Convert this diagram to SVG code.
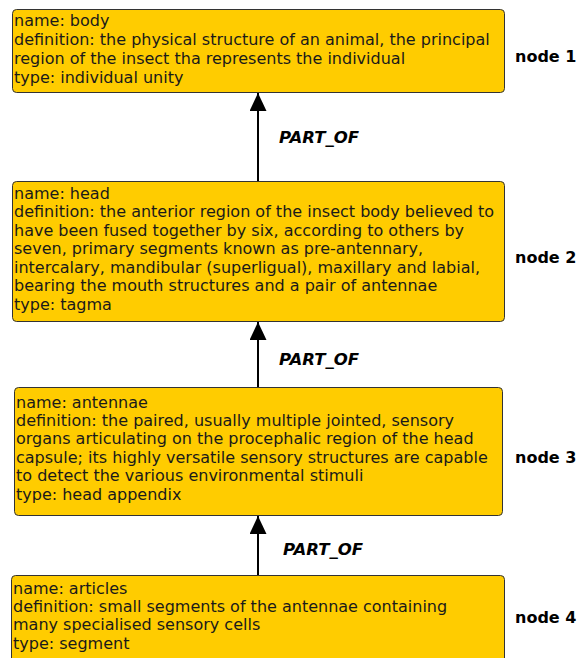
<svg xmlns="http://www.w3.org/2000/svg" width="577" height="658" viewBox="0 0 577 658">
<style>
.box{fill:#FFCC00;stroke:#333;stroke-width:1}
.t{font-family:"DejaVu Sans",sans-serif;font-size:16px;fill:#1a1a1a}
.lbl{font-family:"DejaVu Sans",sans-serif;font-size:16px;font-weight:bold;fill:#000}
.el{font-family:"DejaVu Sans",sans-serif;font-size:16.5px;font-weight:bold;font-style:italic;fill:#000}
.edge{stroke:#000;stroke-width:2;fill:none}
</style>
<defs>
<marker id="arr" viewBox="0 0 18 17" refX="18" refY="8.5" markerWidth="18" markerHeight="17" markerUnits="userSpaceOnUse" orient="auto">
<path d="M0,0 L18,8.5 L0,17 Z" fill="#000"/>
</marker>
</defs>
<rect width="577" height="658" fill="#fff"/>
<g id="edges">
<line class="edge" x1="258" y1="181" x2="258" y2="93" marker-end="url(#arr)"/>
<text class="el" x="279" y="143">PART_OF</text>
<line class="edge" x1="258" y1="387" x2="258" y2="322" marker-end="url(#arr)"/>
<text class="el" x="279" y="365">PART_OF</text>
<line class="edge" x1="258" y1="575" x2="258" y2="516" marker-end="url(#arr)"/>
<text class="el" x="283" y="555">PART_OF</text>
</g>
<g id="node1">
<rect class="box" x="12.5" y="9.5" width="492" height="83" rx="4"/>
<text class="t" x="14" y="25.5">name: body</text>
<text class="t" x="14" y="44.5">definition: the physical structure of an animal, the principal</text>
<text class="t" x="14" y="63.5">region of the insect tha represents the individual</text>
<text class="t" x="14" y="82.5">type: individual unity</text>
<text class="lbl" x="515" y="62">node 1</text>
</g>
<g id="node2">
<rect class="box" x="12.5" y="181.5" width="492" height="140" rx="4"/>
<text class="t" x="14" y="198.5">name: head</text>
<text class="t" x="14" y="217">definition: the anterior region of the insect body believed to</text>
<text class="t" x="14" y="235.5">have been fused together by six, according to others by</text>
<text class="t" x="14" y="254">seven, primary segments known as pre-antennary,</text>
<text class="t" x="14" y="272.5">intercalary, mandibular (superligual), maxillary and labial,</text>
<text class="t" x="14" y="291">bearing the mouth structures and a pair of antennae</text>
<text class="t" x="14" y="309.5">type: tagma</text>
<text class="lbl" x="515" y="263">node 2</text>
</g>
<g id="node3">
<rect class="box" x="14.5" y="387.5" width="488" height="128" rx="4"/>
<text class="t" x="16" y="407.5">name: antennae</text>
<text class="t" x="16" y="425.9">definition: the paired, usually multiple jointed, sensory</text>
<text class="t" x="16" y="444.3">organs articulating on the procephalic region of the head</text>
<text class="t" x="16" y="462.7">capsule; its highly versatile sensory structures are capable</text>
<text class="t" x="16" y="481.1">to detect the various environmental stimuli</text>
<text class="t" x="16" y="499.5">type: head appendix</text>
<text class="lbl" x="515" y="463">node 3</text>
</g>
<g id="node4">
<rect class="box" x="11.5" y="575.5" width="493" height="100" rx="4"/>
<text class="t" x="13" y="593.5">name: articles</text>
<text class="t" x="13" y="611.9">definition: small segments of the antennae containing</text>
<text class="t" x="13" y="630.3">many specialised sensory cells</text>
<text class="t" x="13" y="648.7">type: segment</text>
<text class="lbl" x="515" y="623">node 4</text>
</g>
</svg>
